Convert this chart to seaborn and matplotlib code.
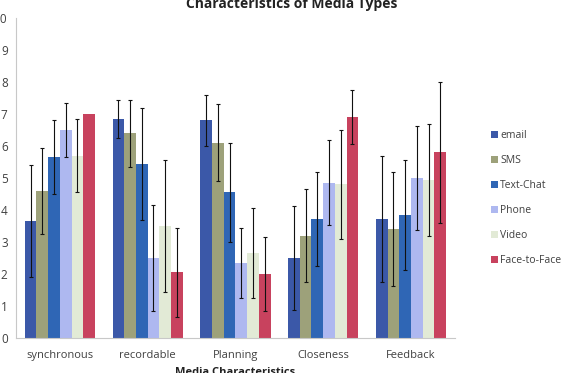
import seaborn as sns
import pandas as pd
import numpy as np
import matplotlib.pyplot as plt

categories = ['synchronous', 'recordable', 'Planning', 'Closeness', 'Feedback']
media = ['email', 'SMS', 'Text-Chat', 'Phone', 'Video', 'Face-to-Face']

# mean ratings per media type, one value per category
email = [3.65, 6.85, 6.80, 2.50, 3.72]
sms = [4.60, 6.40, 6.10, 3.20, 3.39]
text_chat = [5.65, 5.45, 4.55, 3.72, 3.84]
phone = [6.50, 2.50, 2.35, 4.85, 5.00]
video = [5.70, 3.50, 2.65, 4.80, 4.95]
face_to_face = [7.00, 2.05, 2.00, 6.90, 5.80]

# standard deviations (error bar half-widths), 0 = no bar shown
email_sd = [1.75, 0.60, 0.80, 1.63, 1.97]
sms_sd = [1.35, 1.05, 1.20, 1.45, 1.78]
text_chat_sd = [1.15, 1.75, 1.55, 1.46, 1.72]
phone_sd = [0.85, 1.65, 1.10, 1.33, 1.62]
video_sd = [1.15, 2.05, 1.40, 1.70, 1.75]
face_to_face_sd = [0.00, 1.40, 1.15, 0.85, 2.20]

colors = ['#3B58A8', '#9DA17A', '#2F66B5', '#AEB8F0', '#E2EAD6', '#C8425E']

means = [email, sms, text_chat, phone, video, face_to_face]
sds = [email_sd, sms_sd, text_chat_sd, phone_sd, video_sd, face_to_face_sd]

rows = []
for m, vals, errs in zip(media, means, sds):
    for c, v, e in zip(categories, vals, errs):
        rows.append({'category': c, 'media': m, 'mean': v, 'sd': e})
df = pd.DataFrame(rows)

sns.set_style('white')
plt.rcParams['font.family'] = ['Open Sans', 'DejaVu Sans']

fig = plt.figure(figsize=(5.7, 3.73), dpi=100)
ax = fig.add_axes([0.028, 0.094, 0.77, 0.858])

sns.barplot(data=df, x='category', y='mean', hue='media', order=categories,
            hue_order=media, palette=colors, errorbar=None, width=0.8,
            saturation=1, linewidth=0, ax=ax)

for cont, m in zip(ax.containers, media):
    sub = df[df['media'] == m].set_index('category').loc[categories]
    xs = np.array([p.get_x() + p.get_width() / 2 for p in cont.patches])
    keep = (sub['sd'] > 0).values
    ax.errorbar(xs[keep], sub['mean'].values[keep], yerr=sub['sd'].values[keep],
                fmt='none', ecolor='#111111', elinewidth=0.8, capsize=1.5,
                capthick=0.8)

ax.set_ylim(0, 10)
ax.set_xlim(-0.5, len(categories) - 0.5)
ax.set_yticks(range(0, 11))
ax.set_xticks(np.arange(-0.5, len(categories)), minor=True)
ax.tick_params(axis='x', which='major', length=0, labelsize=8, colors='#404040', pad=9)
ax.tick_params(axis='x', which='minor', length=4, color='#bbbbbb', direction='out')
ax.tick_params(axis='y', length=4, direction='out', labelsize=8.5,
               colors='#404040', pad=2)
ax.tick_params(axis='y', color='#bbbbbb')
for s in ['top', 'right']:
    ax.spines[s].set_visible(False)
for s in ['left', 'bottom']:
    ax.spines[s].set_color('#c8c8c8')
    ax.spines[s].set_linewidth(0.8)

ax.set_xlabel('Media Characteristics', fontsize=8, fontweight='bold', color='#222222',
              labelpad=4)
ax.set_ylabel('')
fig.text(0.512, 0.988, 'Characteristics of Media Types', ha='center', va='center',
         fontsize=10, fontweight='bold', color='#222222')

handles, labels = ax.get_legend_handles_labels()
ax.legend(handles, labels, loc='center left', bbox_to_anchor=(0.862, 0.469),
          bbox_transform=fig.transFigure, frameon=False, fontsize=7.5,
          handlelength=0.6, handleheight=0.6, handletextpad=0.25,
          labelspacing=1.35, labelcolor='#404040', borderpad=0, borderaxespad=0)

plt.savefig('out.png', dpi=100)
